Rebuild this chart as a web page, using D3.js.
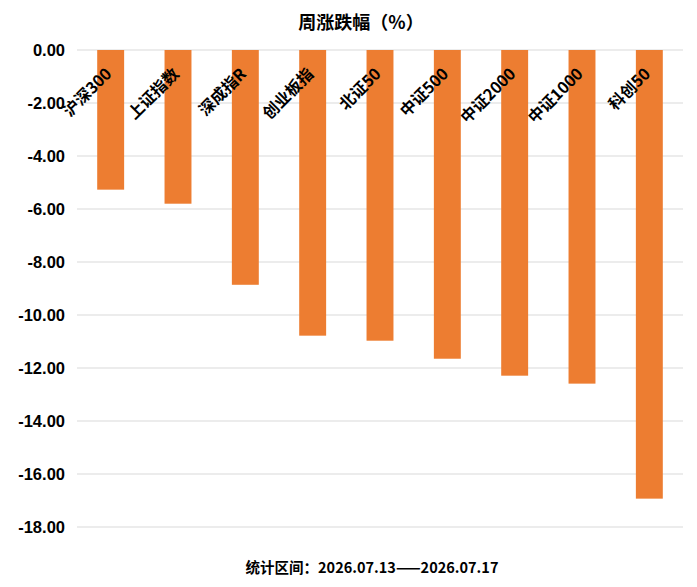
<!DOCTYPE html>
<html>
<head>
<meta charset="utf-8">
<script src="https://cdn.jsdelivr.net/npm/d3@7"></script>
<style>
  body { margin: 0; background: #fff; }
  svg { display: block; }
</style>
</head>
<body>
<svg id="chart" width="697" height="587"></svg>
<script>
// data
const categories = ["沪深300", "上证指数", "深成指R", "创业板指", "北证50", "中证500", "中证2000", "中证1000", "科创50"];
const values = [-5.27, -5.80, -8.86, -10.78, -10.97, -11.65, -12.29, -12.59, -16.93];
const yTicks = [0, -2, -4, -6, -8, -10, -12, -14, -16, -18];
const titleText = "周涨跌幅（%）";
const footerText = "统计区间：2026.07.13——2026.07.17";

const svg = d3.select("#chart");
const plotLeft = 77, plotRight = 683, plotTop = 50, plotBottom = 527;
const cjk = "'Noto Sans CJK SC', 'Noto Sans', sans-serif";

const x = d3.scaleBand().domain(categories).range([plotLeft, plotRight]).paddingInner(0.6).paddingOuter(0.3);
const y = d3.scaleLinear().domain([0, -18]).range([plotTop, plotBottom]);

// gridlines
svg.selectAll(".grid")
  .data(yTicks)
  .enter()
  .append("line")
  .attr("class", "grid")
  .attr("x1", plotLeft)
  .attr("x2", plotRight)
  .attr("y1", d => y(d))
  .attr("y2", d => y(d))
  .attr("stroke", "#d9d9d9")
  .attr("stroke-width", 1);

// y axis labels
const yAxis = d3.axisLeft(y).tickValues(yTicks).tickFormat(d => d3.format(".2f")(d).replace("−", "-")).tickSize(0).tickPadding(12);
const ya = svg.append("g").attr("transform", `translate(${plotLeft},0)`).call(yAxis);
ya.select(".domain").remove();
ya.selectAll("text")
  .attr("font-family", "'Liberation Sans', Arial, sans-serif")
  .attr("font-weight", "bold")
  .attr("font-size", 16.5)
  .attr("fill", "#000");

// bars
svg.selectAll(".bar")
  .data(values)
  .enter()
  .append("rect")
  .attr("class", "bar")
  .attr("x", (d, i) => x(categories[i]))
  .attr("width", x.bandwidth())
  .attr("y", y(0))
  .attr("height", d => y(d) - y(0))
  .attr("fill", "#ED7D31");

// category labels, rotated
svg.selectAll(".cat")
  .data(categories)
  .enter()
  .append("text")
  .attr("class", "cat")
  .attr("text-anchor", "end")
  .attr("transform", d => `translate(${x(d) + x.bandwidth() / 2 + 2},${y(0) + 25}) rotate(-45)`)
  .attr("font-family", cjk)
  .attr("font-weight", "bold")
  .attr("font-size", 16)
  .attr("fill", "#000")
  .text(d => d);

// title
svg.append("text")
  .attr("x", 361)
  .attr("y", 29)
  .attr("text-anchor", "middle")
  .attr("font-family", cjk)
  .attr("font-weight", "bold")
  .attr("font-size", 18)
  .attr("fill", "#000")
  .text(titleText);

// footer
svg.append("text")
  .attr("x", 372)
  .attr("y", 573)
  .attr("text-anchor", "middle")
  .attr("font-family", cjk)
  .attr("font-weight", "bold")
  .attr("font-size", 14.5)
  .attr("fill", "#000")
  .text(footerText);
</script>
</body>
</html>
